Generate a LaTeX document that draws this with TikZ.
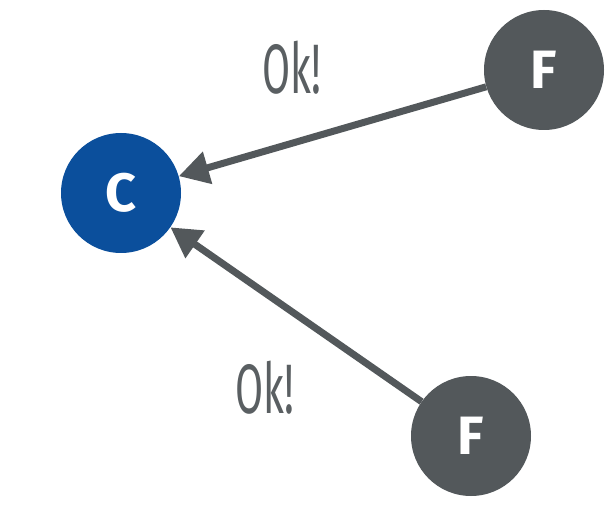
\documentclass[tikz,border=0pt]{standalone}
\usepackage{fontspec}
\setmainfont{Fira Sans}
\newfontfamily\okfont[FakeStretch=0.58]{Fira Sans}
\usetikzlibrary{arrows.meta}
\definecolor{cblue}{HTML}{0B4F9C}
\definecolor{fgray}{HTML}{53585B}
\definecolor{tgray}{HTML}{5A5F62}
\tikzset{
  agent/.style={circle, minimum size=120pt, inner sep=0pt, text=white, font=\fontsize{54}{54}\selectfont\bfseries},
  cnode/.style={agent, fill=cblue},
  fnode/.style={agent, fill=fgray},
  msg/.style={-{Triangle[length=30pt,width=32pt]}, line width=7pt, draw=fgray},
  oklabel/.style={text=tgray, font=\okfont\fontsize{70}{70}\selectfont, inner sep=0pt}
}
\begin{document}
\begin{tikzpicture}[x=1pt,y=1pt]
\useasboundingbox (0,0) rectangle (608,523);
\node[cnode] (c) at (121,330) {C};
\node[fnode] (f1) at (544,453) {F};
\node[fnode] (f2) at (471,87) {F};
\draw[msg] (f1) -- (c);
\draw[msg] (f2) -- (c);
\node[oklabel] (ok1) at (292,455) {Ok!};
\node[oklabel] (ok2) at (265,135) {Ok!};
\end{tikzpicture}
\end{document}
